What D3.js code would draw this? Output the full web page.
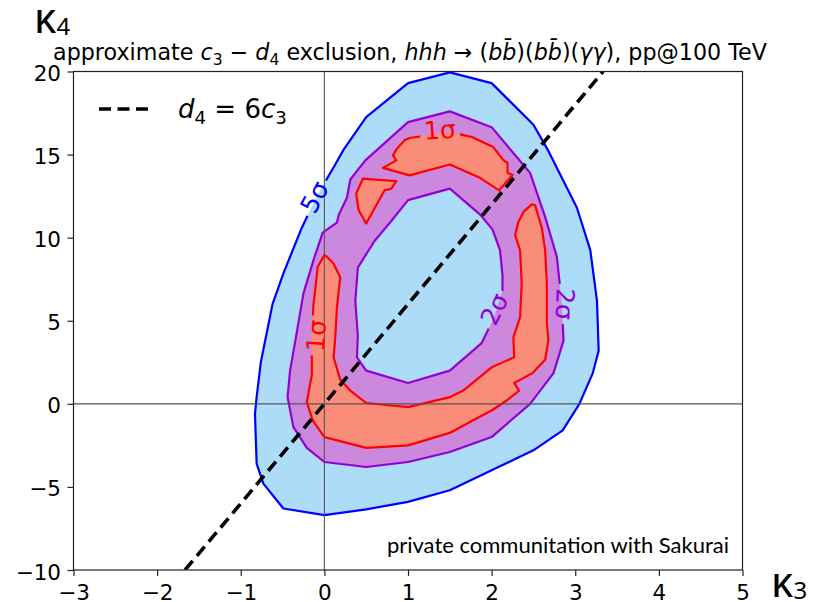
<!DOCTYPE html>
<html>
<head>
<meta charset="utf-8">
<script src="https://cdn.jsdelivr.net/npm/d3@7"></script>
<style>
  body { margin: 0; background: #fff; }
  svg { display: block; font-family: 'DejaVu Sans', sans-serif; }
</style>
</head>
<body>
<div id="root"></div>
<script>
const WIDTH = 821
const HEIGHT = 602
const PLOT = { left: 73.5, right: 742.5, top: 71.5, bottom: 570 }

const X_DOMAIN = [-3, 5]
const Y_DOMAIN = [-10, 20]
const xTicks = [-3, -2, -1, 0, 1, 2, 3, 4, 5]
const yTicks = [-10, -5, 0, 5, 10, 15, 20]

// contour rings, points are [kappa3, kappa4]
const sigma5Outer = [
  [1.5, 19.95], [2.0, 19.3], [2.5, 16.8], [2.67, 15.3], [2.85, 13.5], [3.02, 11.8], [3.18, 9.25],
  [3.26, 6.2], [3.28, 3.2], [3.21, 1.85], [3.05, 0], [2.85, -1.6], [2.5, -2.8], [2.0, -4.0],
  [1.5, -5.2], [1.0, -5.9], [0.5, -6.35], [0, -6.7], [-0.49, -6.3], [-0.73, -4.8], [-0.81, -3.6],
  [-0.83, -0.6], [-0.81, 0.4], [-0.76, 2.5], [-0.62, 6.0], [-0.49, 7.85], [-0.27, 10.6],
  [-0.08, 12.6], [0.13, 14.4], [0.23, 15.3], [0.5, 17.25], [1.0, 19.3]
]
const sigma2Outer = [
  [1.5, 17.6], [2.0, 16.65], [2.3, 14.85], [2.46, 13.9], [2.64, 11.25], [2.78, 8.85], [2.84, 6.0],
  [2.86, 3.8], [2.74, 1.85], [2.46, 0], [2.0, -2.0], [1.5, -2.9], [1.0, -3.5], [0.5, -3.8],
  [0, -3.5], [-0.21, -2.65], [-0.37, -1.4], [-0.44, 0.4], [-0.41, 2.0], [-0.33, 4.3],
  [-0.25, 6.65], [-0.13, 8.65], [-0.02, 10.3], [0.15, 10.9], [0.17, 11.35], [0.27, 12.4],
  [0.31, 13.5], [0.49, 14.65], [1.0, 16.95]
]
const sigma2Inner = [
  [1.5, 12.95], [1.86, 11.4], [2.01, 10.5], [2.1, 9.25], [2.13, 7.75], [2.13, 6.8], [2.02, 5.1],
  [1.88, 3.65], [1.5, 2.0], [1.0, 1.25], [0.5, 2.0], [0.39, 2.8], [0.4, 4.1], [0.37, 6.2],
  [0.4, 8.2], [0.6, 9.8], [0.8, 11.0], [1.0, 12.26]
]
const sigma1Top = [
  [0.96, 15.87], [1.02, 16.0], [1.5, 16.35], [1.77, 16.05], [2.02, 15.45], [2.14, 14.67],
  [2.19, 14.5], [2.19, 13.9], [2.25, 13.77], [2.09, 12.85], [1.86, 13.6], [1.5, 14.4],
  [1.02, 13.75], [0.7, 14.2], [0.86, 14.65], [0.82, 14.95], [0.86, 15.3]
]
const sigma1Island = [
  [0.46, 13.55], [0.86, 13.4], [0.8, 12.95], [0.72, 12.85], [0.5, 10.85], [0.41, 11.65], [0.38, 12.65]
]
const sigma1Band = [
  [0.0, 8.95], [-0.08, 8.25], [-0.11, 6.85], [-0.13, 6.05], [-0.15, 4.0], [-0.15, 1.75],
  [-0.21, 0.1], [-0.14, -1.0], [0, -2.0], [0.5, -2.65], [1.0, -2.5], [1.5, -1.75], [1.83, -0.85],
  [2.0, -0.4], [2.18, 0.2], [2.33, 0.8], [2.27, 1.25], [2.49, 1.85], [2.64, 2.65], [2.68, 3.85],
  [2.66, 4.85], [2.66, 7.25], [2.64, 9.25], [2.6, 10.6], [2.52, 11.95], [2.48, 12.0],
  [2.38, 11.55], [2.32, 10.95], [2.28, 10.15], [2.34, 9.25], [2.36, 7.25], [2.34, 5.2],
  [2.26, 4.0], [2.27, 2.8], [2.0, 2.2], [1.66, 0.8], [1.5, 0.4], [1.0, -0.2], [0.5, 0.05],
  [0.31, 0.8], [0.19, 1.45], [0.11, 2.8], [0.13, 4.0], [0.15, 5.8], [0.19, 7.6], [0.11, 8.45],
  [0.03, 8.85]
]

const contourLabels = [
  { text: '5σ', k3: -0.12, k4: 12.45, angle: -62, level: 's5' },
  { text: '1σ', k3: 1.38, k4: 16.5, angle: -4, level: 's1' },
  { text: '1σ', k3: -0.1, k4: 4.1, angle: -86, level: 's1' },
  { text: '2σ', k3: 2.03, k4: 5.7, angle: -64, level: 's2' },
  { text: '2σ', k3: 2.88, k4: 6.0, angle: 92, level: 's2' }
]

const LINE_SLOPE = 6 // d4 = 6 c3  ->  kappa4 = 6 kappa3
const NOTE = 'private communitation with Sakurai'

const COLORS = {
  s5Fill: '#acdcf8', s5Line: '#0000ff',
  s2Fill: '#cc88dd', s2Line: '#9400d3',
  s1Fill: '#fa8c7a', s1Line: '#ff0000'
}
const LABEL_SIZE = 25
const TICK_SIZE = 21.5

const x = d3.scaleLinear().domain(X_DOMAIN).range([PLOT.left, PLOT.right])
const y = d3.scaleLinear().domain(Y_DOMAIN).range([PLOT.bottom, PLOT.top])

const ring = d3.line().x(d => x(d[0])).y(d => y(d[1])).curve(d3.curveLinearClosed)
const minus = d => d < 0 ? '\u2212' + Math.abs(d) : String(d)

const svg = d3.select('#root')
  .append('svg')
  .attr('width', WIDTH)
  .attr('height', HEIGHT)

const defs = svg.append('defs')
defs.append('clipPath').attr('id', 'plot-clip')
  .append('rect')
  .attr('x', PLOT.left).attr('y', PLOT.top)
  .attr('width', PLOT.right - PLOT.left).attr('height', PLOT.bottom - PLOT.top)

const plot = svg.append('g').attr('clip-path', 'url(#plot-clip)')

// filled regions
plot.append('path').attr('d', ring(sigma5Outer)).attr('fill', COLORS.s5Fill)
plot.append('path')
  .attr('d', ring(sigma2Outer) + ring(sigma2Inner))
  .attr('fill', COLORS.s2Fill)
  .attr('fill-rule', 'evenodd')
;[sigma1Top, sigma1Island, sigma1Band].forEach(r => {
  plot.append('path').attr('d', ring(r)).attr('fill', COLORS.s1Fill)
})

// contour labels first (to measure them for the line gaps)
const labelGroup = svg.append('g')
const masks = {}
;['s5', 's2', 's1'].forEach(level => {
  masks[level] = defs.append('mask')
    .attr('id', `mask-${level}`)
    .attr('maskUnits', 'userSpaceOnUse')
    .attr('x', 0).attr('y', 0).attr('width', WIDTH).attr('height', HEIGHT)
  masks[level].append('rect').attr('width', WIDTH).attr('height', HEIGHT).attr('fill', '#fff')
})

contourLabels.forEach(l => {
  const cx = x(l.k3)
  const cy = y(l.k4)
  const t = labelGroup.append('text')
    .attr('transform', `translate(${cx},${cy}) rotate(${l.angle})`)
    .attr('text-anchor', 'middle')
    .attr('dy', '0.36em')
    .style('font-size', LABEL_SIZE + 'px')
    .attr('fill', COLORS[l.level + 'Line'])
    .text(l.text)
  const w = t.node().getComputedTextLength() + 8
  const h = LABEL_SIZE * 0.9
  masks[l.level].append('rect')
    .attr('x', -w / 2).attr('y', -h / 2)
    .attr('width', w).attr('height', h)
    .attr('transform', `translate(${cx},${cy}) rotate(${l.angle})`)
    .attr('fill', '#000')
})

// contour lines
const lineSets = [
  { level: 's5', rings: [sigma5Outer] },
  { level: 's2', rings: [sigma2Outer, sigma2Inner] },
  { level: 's1', rings: [sigma1Top, sigma1Island, sigma1Band] }
]
lineSets.forEach(set => {
  const g = plot.append('g').attr('mask', `url(#mask-${set.level})`)
  set.rings.forEach(r => {
    g.append('path')
      .attr('d', ring(r))
      .attr('fill', 'none')
      .attr('stroke', COLORS[set.level + 'Line'])
      .attr('stroke-width', 2.2)
      .attr('stroke-linejoin', 'round')
  })
})

// zero lines
plot.append('line')
  .attr('x1', x(0)).attr('x2', x(0)).attr('y1', PLOT.top).attr('y2', PLOT.bottom)
  .attr('stroke', '#555').attr('stroke-width', 1.1)
plot.append('line')
  .attr('x1', PLOT.left).attr('x2', PLOT.right).attr('y1', y(0)).attr('y2', y(0))
  .attr('stroke', '#555').attr('stroke-width', 1.1)

// d4 = 6 c3 line
const lineK3 = [Y_DOMAIN[0] / LINE_SLOPE, Y_DOMAIN[1] / LINE_SLOPE]
plot.append('line')
  .attr('x1', x(lineK3[0])).attr('y1', y(lineK3[0] * LINE_SLOPE))
  .attr('x2', x(lineK3[1])).attr('y2', y(lineK3[1] * LINE_SLOPE))
  .attr('stroke', '#000').attr('stroke-width', 3.6)
  .attr('stroke-dasharray', '12,6.5')

labelGroup.raise()

// frame and axes
svg.append('rect')
  .attr('x', PLOT.left).attr('y', PLOT.top)
  .attr('width', PLOT.right - PLOT.left).attr('height', PLOT.bottom - PLOT.top)
  .attr('fill', 'none').attr('stroke', '#222').attr('stroke-width', 1.2)

const xAxis = d3.axisBottom(x).tickValues(xTicks).tickSize(6).tickPadding(9).tickFormat(minus)
const yAxis = d3.axisLeft(y).tickValues(yTicks).tickSize(6).tickPadding(6.5).tickFormat(minus)

svg.append('g')
  .attr('class', 'axis')
  .attr('transform', `translate(0, ${PLOT.bottom})`)
  .call(xAxis)
  .call(g => g.select('.domain').remove())
const yAxisG = svg.append('g')
  .attr('class', 'axis')
  .attr('transform', `translate(${PLOT.left}, 0)`)
  .call(yAxis)
  .call(g => g.select('.domain').remove())
yAxisG.selectAll('.tick text').attr('dy', '0.42em')

svg.selectAll('.axis')
  .attr('font-size', null)
  .attr('font-family', null)
svg.selectAll('.tick line').attr('stroke', '#222').attr('stroke-width', 1.2)
svg.selectAll('.tick text')
  .style('font-family', "'DejaVu Sans'")
  .style('font-size', TICK_SIZE + 'px')
  .attr('fill', '#000')

// mathtext-like runs
function writeRuns (textSel, runs, size) {
  let shifted = false
  runs.forEach(r => {
    const ts = textSel.append('tspan').text(r.t)
    if (r.it) ts.attr('font-style', 'italic')
    if (r.sub) {
      ts.style('font-size', size * 0.7 + 'px')
      if (!shifted) ts.attr('dy', size * 0.22)
      shifted = true
    } else {
      ts.style('font-size', size + 'px')
      if (shifted) ts.attr('dy', -size * 0.22)
      shifted = false
    }
  })
}

const titleRuns = [
  { t: 'approximate ' }, { t: 'c', it: 1 }, { t: '3', sub: 1 }, { t: ' \u2212 ' },
  { t: 'd', it: 1 }, { t: '4', sub: 1 }, { t: ' exclusion, ' }, { t: 'hhh', it: 1 },
  { t: ' \u2192 (' }, { t: 'bb\u0304', it: 1 }, { t: ')(' }, { t: 'bb\u0304', it: 1 },
  { t: ')(' }, { t: '\u03b3\u03b3', it: 1 }, { t: '), pp@100 TeV' }
]
const TITLE_WIDTH = 714
const title = svg.append('text')
  .attr('x', 410)
  .attr('y', 60)
  .attr('text-anchor', 'middle')
  .attr('fill', '#000')
writeRuns(title, titleRuns, 19)
const titleSize = 19 * TITLE_WIDTH / title.node().getComputedTextLength()
title.selectAll('tspan').remove()
writeRuns(title, titleRuns, titleSize)

// legend
const LEGEND_Y = 109
svg.append('line')
  .attr('x1', 99).attr('x2', 153).attr('y1', LEGEND_Y).attr('y2', LEGEND_Y)
  .attr('stroke', '#000').attr('stroke-width', 3.6)
  .attr('stroke-dasharray', '12,6.5')
const legendText = svg.append('text').attr('x', 178).attr('y', 118).attr('fill', '#000')
writeRuns(legendText, [
  { t: 'd', it: 1 }, { t: '4', sub: 1 }, { t: ' = 6' }, { t: 'c', it: 1 }, { t: '3', sub: 1 }
], 26)

// axis names
const k4 = svg.append('text').attr('x', 34).attr('y', 33)
  .style('font-family', "'Noto Sans'").attr('fill', '#000')
k4.append('tspan').style('font-size', '42px').text('\u03ba')
k4.append('tspan').style('font-size', '24px').attr('dy', 2).text('4')

const k3 = svg.append('text').attr('x', 771).attr('y', 597)
  .style('font-family', "'Noto Sans'").attr('fill', '#000')
k3.append('tspan').style('font-size', '42px').text('\u03ba')
k3.append('tspan').style('font-size', '24px').attr('dy', 2).text('3')

svg.append('text')
  .attr('x', 729).attr('y', 553)
  .attr('text-anchor', 'end')
  .style('font-family', 'Lato')
  .style('font-size', '22px')
  .attr('fill', '#000')
  .text(NOTE)
</script>
</body>
</html>
